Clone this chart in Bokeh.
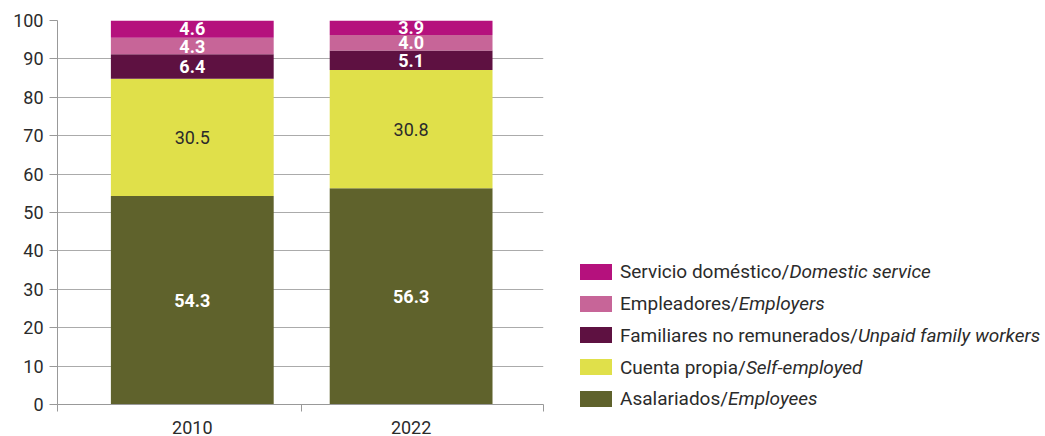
from bokeh.plotting import figure
from bokeh.models import ColumnDataSource, FixedTicker, Div
from bokeh.layouts import row
from bokeh.embed import file_html
from bokeh.resources import INLINE
from bokeh.core.properties import value

years = ["2010", "2022"]
series_es = ["Asalariados", "Cuenta propia", "Familiares no remunerados", "Empleadores", "Servicio doméstico"]
series_en = ["Employees", "Self-employed", "Unpaid family workers", "Employers", "Domestic service"]
employees = [54.3, 56.3]
self_employed = [30.5, 30.8]
unpaid_family = [6.4, 5.1]
employers = [4.3, 4.0]
domestic = [4.6, 3.9]
y_ticks = [0, 10, 20, 30, 40, 50, 60, 70, 80, 90, 100]

colors = ["#5f622c", "#e0e04a", "#5e1141", "#c76598", "#b5117d"]
label_colors = ["white", "#2b2b2b", "white", "white", "white"]
label_bold = ["bold", "normal", "bold", "bold", "bold"]
series_vals = [employees, self_employed, unpaid_family, employers, domestic]

FONT = "Roboto"
TXT = "#2b2b2b"
X0, X1 = -0.116, 2.105

p = figure(width=560, height=436, x_range=(X0, X1), y_range=(0, 100),
           output_backend="svg", toolbar_location=None,
           min_border_left=57, min_border_top=20, min_border_bottom=30, min_border_right=17)

xs = [i + 0.5 for i in range(len(years))]
bottom = [0.0] * len(years)
for k, vals in enumerate(series_vals):
    top = [b + v for b, v in zip(bottom, vals)]
    mid = [b + v / 2 for b, v in zip(bottom, vals)]
    src = ColumnDataSource(dict(x=xs, bottom=bottom, top=top, mid=mid,
                                lab=[f"{v:.1f}" for v in vals]))
    p.vbar(x="x", bottom="bottom", top="top", width=0.744, source=src,
           fill_color=colors[k], line_color=None)
    p.text(x="x", y="mid", text="lab", source=src, text_align="center",
           text_baseline="middle", text_color=label_colors[k],
           text_font=value(FONT), text_font_size="18px",
           text_font_style=label_bold[k], y_offset=0)
    bottom = top

p.outline_line_color = None
p.xgrid.grid_line_color = None
p.ygrid.grid_line_color = "#ababab"
p.ygrid.grid_line_width = 1
p.ygrid.ticker = FixedTicker(ticks=y_ticks)

p.yaxis.ticker = FixedTicker(ticks=y_ticks)
p.yaxis.axis_line_color = "#999999"
p.yaxis.major_tick_line_color = "#999999"
p.yaxis.major_tick_out = 8
p.yaxis.major_tick_in = 0
p.yaxis.minor_tick_line_color = None
p.yaxis.major_label_text_font = FONT
p.yaxis.major_label_text_font_size = "18px"
p.yaxis.major_label_text_color = TXT
p.yaxis.major_label_standoff = 6

p.xaxis.ticker = FixedTicker(ticks=xs, minor_ticks=[X0, 1, X1])
p.xaxis.major_label_overrides = {x: y for x, y in zip(xs, years)}
p.xaxis.axis_line_color = "#999999"
p.xaxis.major_tick_line_color = None
p.xaxis.major_tick_out = 0
p.xaxis.major_tick_in = 0
p.xaxis.minor_tick_line_color = "#999999"
p.xaxis.minor_tick_out = 7
p.xaxis.minor_tick_in = 0
p.xaxis.major_label_text_font = FONT
p.xaxis.major_label_text_font_size = "18px"
p.xaxis.major_label_text_color = TXT
p.xaxis.major_label_standoff = 9

rows_html = ""
for k in reversed(range(len(series_es))):
    rows_html += (
        '<div style="display:flex;align-items:center;height:31.75px;white-space:nowrap">'
        f'<span style="display:inline-block;flex:none;width:32px;height:16px;background:{colors[k]};margin-right:8px"></span>'
        f'<span>{series_es[k]}/<i>{series_en[k]}</i></span></div>'
    )
legend_div = Div(text=(
    f'<div style="padding-top:251px;padding-left:15px;font-family:{FONT};'
    f'font-size:19px;color:{TXT}">{rows_html}</div>'),
    width=485, height=436)

layout = row(p, legend_div)
open("out.html", "w").write(file_html(layout, INLINE))
